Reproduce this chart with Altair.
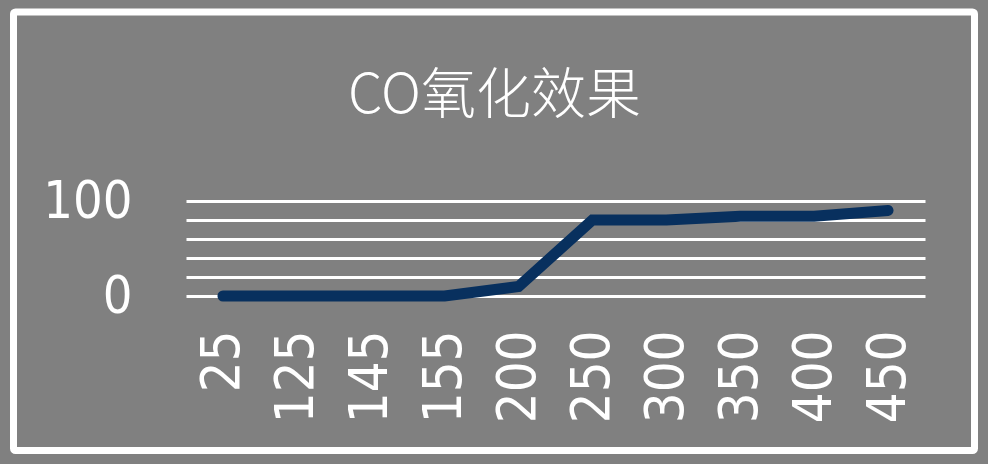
import altair as alt
import pandas as pd

# ---- data ----
categories = ["25", "125", "145", "155", "200", "250", "300", "350", "400", "450"]
values = [0, 0, 0, 0, 10, 80, 80, 84, 84, 90]
grid_values = [0, 20, 40, 60, 80, 100]
title_text = "CO氧化效果"

df = pd.DataFrame({"temp": categories, "value": values})

W, H = 739, 95
PAD_L, PAD_T, PAD_R, PAD_B = 186, 201, 63, 168
LABEL_FONT = "Liberation Sans Narrow, DejaVu Sans Condensed, Liberation Sans, sans-serif"

frame = alt.Chart(pd.DataFrame({"k": [0]})).mark_rect(
    fill="transparent", stroke="white", strokeWidth=7, cornerRadius=2
).encode(
    x=alt.value(13.5 - PAD_L), x2=alt.value(974.5 - PAD_L),
    y=alt.value(12 - PAD_T), y2=alt.value(450.5 - PAD_T),
)

line = alt.Chart(df).mark_line(
    color="#08305e", strokeWidth=11, strokeCap="round", strokeJoin="miter"
).encode(
    x=alt.X(
        "temp:N", sort=categories,
        scale=alt.Scale(type="point", padding=0.5),
        axis=alt.Axis(
            title=None, labelAngle=270, labelColor="white", labelFont=LABEL_FONT,
            labelFontSize=54, labelPadding=34, ticks=False, domain=False, grid=False,
            labelOverlap=False, labelBound=False,
        ),
    ),
    y=alt.Y(
        "value:Q", scale=alt.Scale(domain=[0, 100], nice=False, zero=True),
        axis=alt.Axis(
            title=None, values=grid_values,
            labelExpr="datum.value == 0 || datum.value == 100 ? datum.label : ''",
            grid=True, gridColor="white", gridWidth=3, gridOpacity=1,
            ticks=False, domain=False, labelPadding=54, labelFontSize=52,
            labelFont=LABEL_FONT, labelColor="white", labelOverlap=False, labelBound=False,
        ),
    ),
)

chart = alt.layer(frame, line).properties(
    width=W, height=H,
    title=alt.TitleParams(
        title_text, color="white", fontSize=55, font="Noto Sans CJK SC",
        fontWeight=300, anchor="middle", frame="group", dx=-61, offset=-116,
    ),
    padding={"left": PAD_L, "top": PAD_T, "right": PAD_R, "bottom": PAD_B},
    autosize=alt.AutoSizeParams(type="none"),
    background="#808080",
).configure_view(strokeWidth=0)

chart.save("out.html", embed_options={"renderer": "svg", "actions": False})
